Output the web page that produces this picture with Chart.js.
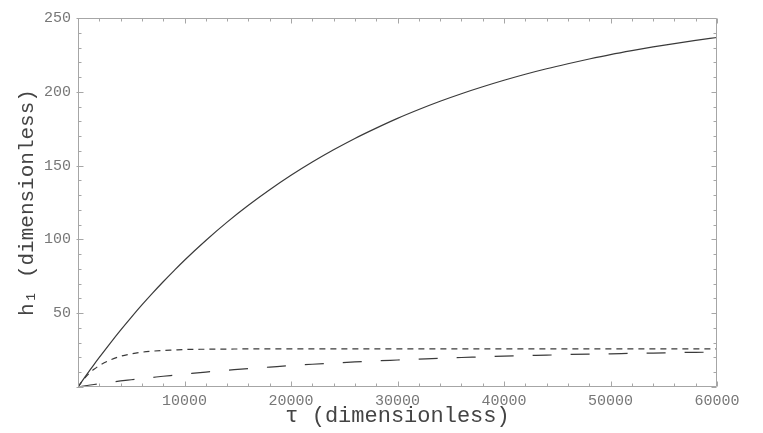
<!DOCTYPE html>
<html>
<head>
<meta charset="utf-8">
<script src="https://cdn.jsdelivr.net/npm/chart.js@4"></script>
<style>
  html, body { margin: 0; padding: 0; background: #fff; }
  canvas { display: block; }
</style>
</head>
<body>
<canvas id="c" width="763" height="433"></canvas>
<script>
// ---- data ----
const tau = [0, 500, 1000, 1500, 2000, 3000, 4000, 5000, 6000, 7000, 8000, 9000, 10000,
  12000, 14000, 16000, 18000, 20000, 22000, 24000, 26000, 28000, 30000, 32000, 34000,
  36000, 38000, 40000, 42000, 44000, 46000, 48000, 50000, 52000, 54000, 56000, 58000, 60000];

const hSolid = [0, 5.2, 10.2, 15.2, 20.0, 29.4, 38.5, 47.2, 55.6, 63.6, 71.3, 78.7, 85.9,
  99.3, 111.7, 123.1, 133.6, 143.4, 152.4, 160.7, 168.4, 175.4, 182.0, 188.0, 193.6,
  198.7, 203.4, 207.8, 211.9, 215.6, 219.0, 222.2, 225.2, 227.9, 230.4, 232.7, 234.8, 236.8];

const hShortDash = [0, 4.9, 8.9, 12.0, 14.5, 18.2, 20.8, 22.4, 23.6, 24.3, 24.8, 25.1, 25.4,
  25.6, 25.7, 25.8, 25.8, 25.8, 25.8, 25.8, 25.8, 25.8, 25.8, 25.8, 25.8,
  25.8, 25.8, 25.8, 25.8, 25.8, 25.8, 25.8, 25.8, 25.8, 25.8, 25.8, 25.8, 25.8];

const hLongDash = [0, 0.6, 1.2, 1.7, 2.2, 3.2, 4.1, 4.9, 5.7, 6.5, 7.3, 8.0, 8.7,
  10.1, 11.3, 12.5, 13.5, 14.5, 15.4, 16.2, 17.0, 17.7, 18.3, 18.9, 19.5,
  20.0, 20.4, 20.9, 21.3, 21.6, 22.0, 22.3, 22.5, 22.8, 23.0, 23.3, 23.5, 23.6];

const xTickLabels = ['', '10000', '20000', '30000', '40000', '50000', '60000'];
const yTickLabels = ['', '50', '100', '150', '200', '250'];

const xTitle = 'τ (dimensionless)';
const yTitle = 'h₁ (dimensionless)';

// ---- chart ----
const mono = "'Liberation Mono', 'DejaVu Sans Mono', monospace";
const pts = (ys) => tau.map((t, i) => ({ x: t, y: ys[i] }));

const frameTicks = {
  id: 'frameTicks',
  afterDraw(chart) {
    const { ctx, chartArea: a, scales: { x, y } } = chart;
    const L = Math.round(a.left) + 0.5, R = Math.round(a.right) - 0.5;
    const T = Math.round(a.top) + 0.5, B = Math.round(a.bottom) - 0.5;
    ctx.save();
    ctx.strokeStyle = '#a6a6a6';
    ctx.lineWidth = 1;
    ctx.beginPath();
    ctx.rect(L, T, R - L, B - T);
    for (let v = 0; v <= 60000; v += 2000) {
      const px = Math.round(x.getPixelForValue(v)) + 0.5;
      const len = (v % 10000 === 0) ? 5 : 3;
      ctx.moveTo(px, B); ctx.lineTo(px, B - len);
      ctx.moveTo(px, T); ctx.lineTo(px, T + len);
    }
    for (let v = 0; v <= 250; v += 10) {
      const py = Math.round(y.getPixelForValue(v)) + 0.5;
      const len = (v % 50 === 0) ? 5 : 3;
      ctx.moveTo(L - (v % 50 === 0 ? 2 : 0), py); ctx.lineTo(L + len, py);
      ctx.moveTo(R, py); ctx.lineTo(R - len, py);
    }
    ctx.stroke();
    ctx.restore();
  }
};

new Chart(document.getElementById('c'), {
  type: 'line',
  data: {
    datasets: [
      { data: pts(hSolid), borderColor: '#3a3a3a', borderWidth: 1.2, pointRadius: 0,
        cubicInterpolationMode: 'monotone' },
      { data: pts(hShortDash), borderColor: '#3a3a3a', borderWidth: 1.2, pointRadius: 0,
        borderDash: [6, 5], cubicInterpolationMode: 'monotone' },
      { data: pts(hLongDash), borderColor: '#3a3a3a', borderWidth: 1.2, pointRadius: 0,
        borderDash: [19, 19], cubicInterpolationMode: 'monotone' }
    ]
  },
  options: {
    responsive: false,
    animation: false,
    devicePixelRatio: 1,
    layout: { padding: { top: 18, right: 46, left: 0, bottom: 0 } },
    plugins: { legend: { display: false }, tooltip: { enabled: false } },
    scales: {
      x: {
        type: 'linear', position: 'bottom', min: 0, max: 60000,
        afterFit: (s) => { s.height = 46; },
        ticks: {
          stepSize: 10000, maxRotation: 0, padding: 5, color: '#777',
          font: { family: mono, size: 15 },
          callback: (v) => xTickLabels[Math.round(v / 10000)] ?? ''
        },
        grid: { display: false, drawTicks: false, tickLength: 0 },
        border: { display: false },
        title: { display: true, text: xTitle, color: '#444',
          font: { family: mono, size: 22 }, padding: { top: 0, bottom: 4 } }
      },
      y: {
        type: 'linear', position: 'left', min: 0, max: 250,
        afterFit: (s) => { s.width = 78; },
        ticks: {
          stepSize: 50, padding: 7, color: '#777',
          font: { family: mono, size: 15 },
          callback: (v) => yTickLabels[Math.round(v / 50)] ?? ''
        },
        grid: { display: false, drawTicks: false, tickLength: 0 },
        border: { display: false },
        title: { display: true, text: yTitle, color: '#444',
          font: { family: mono, size: 21 }, padding: { top: 15, bottom: 0 } }
      }
    }
  },
  plugins: [frameTicks]
});
</script>
</body>
</html>
